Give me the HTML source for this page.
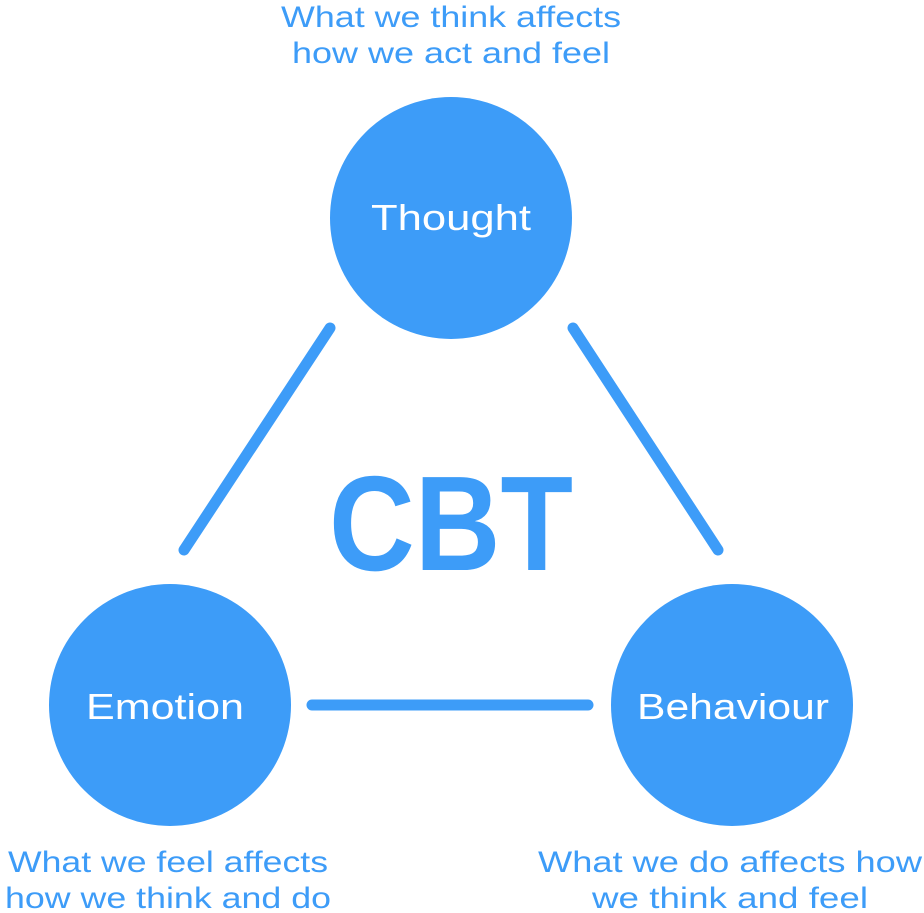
<!DOCTYPE html>
<html><head><style>html,body{margin:0;padding:0;background:#fff}svg{display:block}</style></head>
<body>
<svg width="924" height="913" viewBox="0 0 924 913" xmlns="http://www.w3.org/2000/svg" font-family="Liberation Sans, sans-serif" fill="#3d9cf8">
<circle cx="451" cy="218" r="121"/>
<circle cx="170" cy="705" r="121"/>
<circle cx="732" cy="705" r="121"/>
<g stroke="#3d9cf8" stroke-width="11" stroke-linecap="round">
<line x1="330" y1="328" x2="184" y2="550"/>
<line x1="573" y1="328" x2="718" y2="550"/>
<line x1="312" y1="705" x2="588" y2="705"/>
</g>
<text x="451" y="570" font-size="135" font-weight="bold" text-anchor="middle" textLength="244" lengthAdjust="spacingAndGlyphs">CBT</text>
<g fill="#fff" font-size="36" text-anchor="middle">
<text x="451" y="230" textLength="160" lengthAdjust="spacingAndGlyphs">Thought</text>
<text x="165" y="719" textLength="158" lengthAdjust="spacingAndGlyphs">Emotion</text>
<text x="733" y="719" textLength="192" lengthAdjust="spacingAndGlyphs">Behaviour</text>
</g>
<g font-size="30" text-anchor="middle">
<text x="451" y="27" textLength="340" lengthAdjust="spacingAndGlyphs">What we think affects</text>
<text x="451" y="63" textLength="318" lengthAdjust="spacingAndGlyphs">how we act and feel</text>
<text x="168" y="872" textLength="320" lengthAdjust="spacingAndGlyphs">What we feel affects</text>
<text x="168" y="908" textLength="326" lengthAdjust="spacingAndGlyphs">how we think and do</text>
<text x="730" y="872" textLength="384" lengthAdjust="spacingAndGlyphs">What we do affects how</text>
<text x="730" y="908" textLength="276" lengthAdjust="spacingAndGlyphs">we think and feel</text>
</g>
</svg>
</body></html>
